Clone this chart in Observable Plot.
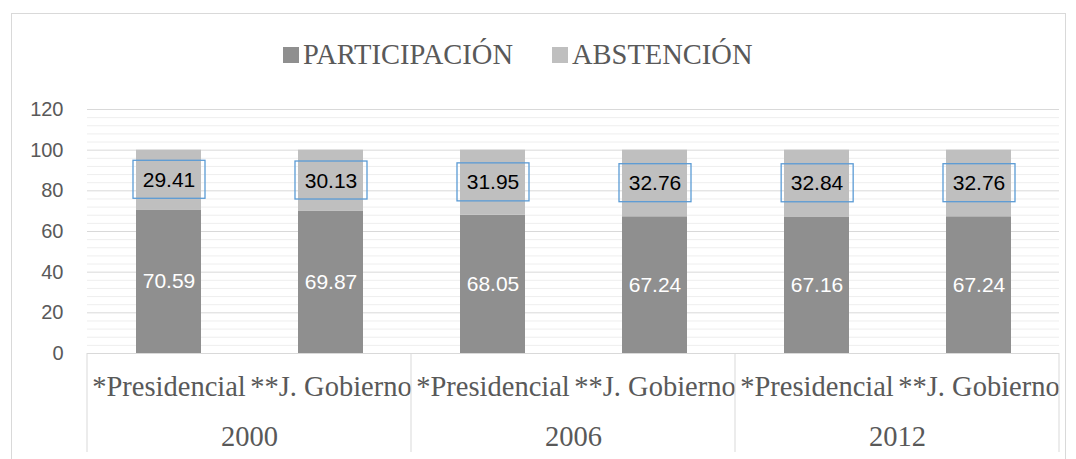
<!DOCTYPE html>
<html><head><meta charset="utf-8">
<script src="https://cdn.jsdelivr.net/npm/d3@7"></script>
<script src="https://cdn.jsdelivr.net/npm/@observablehq/plot@0.6"></script>
<style>
body{margin:0;background:#fff;}
#wrap{position:relative;width:1076px;height:459px;overflow:hidden;background:#fff;}
#frame{position:absolute;left:11px;top:13px;width:1055px;height:470px;border:1px solid #d9d9d9;box-sizing:border-box;}
#legend{position:absolute;left:283px;top:35px;height:40px;display:flex;align-items:center;font-family:"Liberation Serif";font-size:28.5px;color:#595959;white-space:nowrap;}
#legend .sw{display:inline-block;width:16px;height:16px;margin-right:4px;}
#legend .item{display:flex;align-items:center;margin-right:39px;}
#chart{position:absolute;left:0;top:0;}
</style></head>
<body>
<div id="wrap"><div id="frame"></div><div id="chart"></div><div id="legend"></div></div>
<script>
const years = ["2000", "2006", "2012"];
const types = ["*Presidencial", "**J. Gobierno"];
const series = ["PARTICIPACIÓN", "ABSTENCIÓN"];
const participacion = [70.59, 69.87, 68.05, 67.24, 67.16, 67.24];
const abstencion = [29.41, 30.13, 31.95, 32.76, 32.84, 32.76];
const colors = ["#8f8f8f", "#bfbfbf"];
const yTicks = [0, 20, 40, 60, 80, 100, 120];

const rows = [];
participacion.forEach((v, i) => {
  const year = years[Math.floor(i / 2)], type = types[i % 2];
  rows.push({year, type, serie: series[0], value: v});
  rows.push({year, type, serie: series[1], value: abstencion[i]});
});
const minorTicks = d3.range(0, 121, 4).filter(t => t % 20 !== 0);
const fmt = v => v.toFixed(2);

const chart = Plot.plot({
  width: 1076, height: 459,
  marginTop: 109, marginBottom: 106, marginLeft: 87, marginRight: 17,
  style: {color: "#595959", background: "transparent"},
  fx: {domain: years, padding: 0, label: null},
  x: {domain: types, paddingInner: 0.6, paddingOuter: 0.3, label: null},
  y: {domain: [0, 120], label: null},
  color: {domain: series, range: colors},
  marks: [
    Plot.ruleY(minorTicks, {stroke: "#eeeeee", strokeWidth: 1}),
    Plot.ruleY(yTicks, {stroke: "#d9d9d9", strokeWidth: 1}),
    Plot.barY(rows, {fx: "year", x: "type", y: "value", fill: "serie", z: "serie"}),
    Plot.text(rows, Plot.stackY({fx: "year", x: "type", y: "value", z: "serie",
      text: d => d.serie === series[0] ? fmt(d.value) : null,
      fill: "white", fontFamily: "Liberation Sans", fontSize: 21})),
    Plot.text(rows, Plot.stackY({fx: "year", x: "type", y: "value", z: "serie",
      text: d => d.serie === series[1] ? fmt(d.value) : null,
      fill: "#000001", fontFamily: "Liberation Sans", fontSize: 21})),
    Plot.axisY({ticks: yTicks, tickSize: 0, tickPadding: 24, fontSize: 20, fontFamily: "Liberation Sans", label: null}),
    Plot.axisX({tickSize: 0, tickPadding: 22, fontSize: 28.5, fontFamily: "Liberation Serif", label: null}),
    Plot.axisFx({anchor: "bottom", tickSize: 0, tickPadding: 72, fontSize: 28.5, fontFamily: "Liberation Serif", label: null})
  ]
});
document.getElementById("chart").appendChild(chart);

// legend
const lg = d3.select("#legend");
series.forEach((s, i) => {
  const it = lg.append("div").attr("class", "item");
  it.append("span").attr("class", "sw").style("background", colors[i]);
  it.append("span").text(s);
});

// label boxes around ABSTENCIÓN values
const svg = d3.select(chart);
const sRect = chart.getBoundingClientRect();
const absLabels = new Set(abstencion.map(fmt));
const boxes = [];
svg.selectAll("text").each(function () {
  const f = getComputedStyle(this).fill;
  if (f === "rgb(0, 0, 1)" && absLabels.has(this.textContent.trim())) {
    const b = this.getBoundingClientRect();
    boxes.push([b.x + b.width / 2 - sRect.x, b.y + b.height / 2 - sRect.y]);
  }
});
boxes.forEach(([cx, cy]) => {
  svg.append("rect").attr("x", cx - 36).attr("y", cy - 19).attr("width", 72).attr("height", 38)
    .attr("fill", "none").attr("stroke", "#5b9bd5").attr("stroke-width", 1.3);
});

// category separators below the axis
const fx = chart.scale("fx"), y = chart.scale("y");
const y0 = y.apply(0);
const edges = years.map(yr => fx.apply(yr)).concat([fx.apply(years[years.length - 1]) + fx.bandwidth]);
edges.forEach(x => {
  svg.append("line").attr("x1", x).attr("x2", x).attr("y1", y0).attr("y2", y0 + 99)
    .attr("stroke", "#d9d9d9").attr("stroke-width", 1);
});
</script>
</body></html>
